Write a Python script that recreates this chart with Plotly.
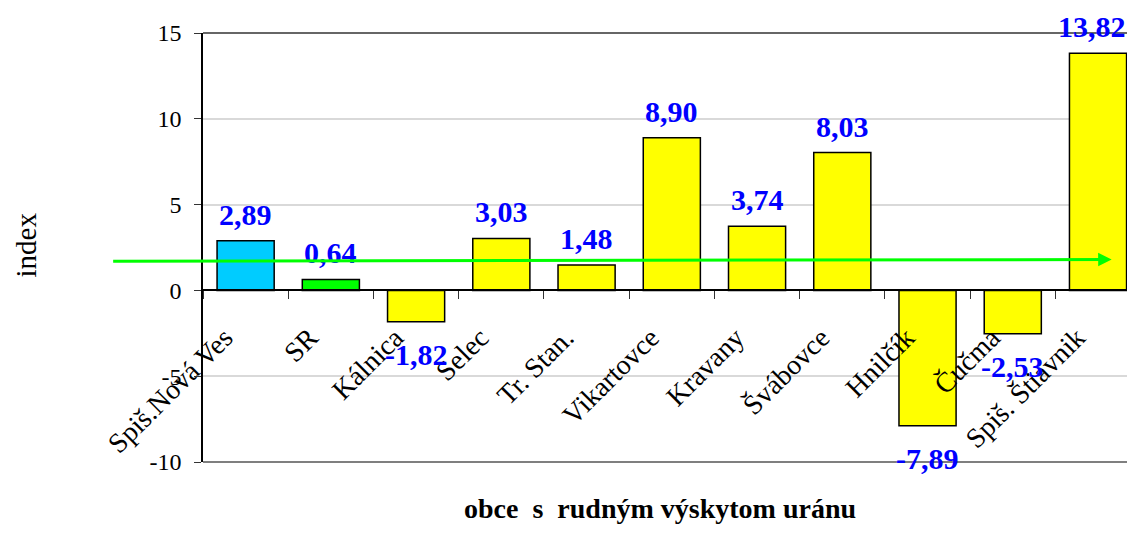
import plotly.graph_objects as go

obce = ["Spiš.Nová Ves", "SR", "Kálnica", "Selec", "Tr. Stan.", "Vikartovce",
        "Kravany", "Švábovce", "Hnilčík", "Čučma", "Spiš. Štiavnik"]
index_vals = [2.89, 0.64, -1.82, 3.03, 1.48, 8.90, 3.74, 8.03, -7.89, -2.53, 13.82]
farby = ["#00ccff", "#00ff00"] + ["#ffff00"] * 9
y_ticks = [-10, -5, 0, 5, 10, 15]
y_ticktext = ["-10", "-5", "0", "5", "10", "15"]

# rucne nakreslena sipka (trend)
trend_start = 1.70
trend_end = 1.80

serif = "Liberation Serif"

fig = go.Figure()
fig.add_trace(go.Bar(
    x=obce, y=index_vals,
    marker=dict(color=farby, line=dict(color="black", width=1.5)),
    width=0.67,
    hoverinfo="x+y",
))

# popisky hodnot
for name, v in zip(obce, index_vals):
    fig.add_annotation(
        x=name, y=v, xref="x", yref="y",
        text=f"{v:.2f}".replace(".", ","),
        showarrow=False,
        yanchor="bottom" if v >= 0 else "top",
        yshift=8 if v >= 0 else -14,
        xshift=-6 if name == obce[-1] else 0,
        font=dict(family=serif, size=30, color="#0000ff", weight="bold"),
    )

# zelena sipka
fig.add_annotation(
    x=10.16, y=trend_end, xref="x", yref="y",
    ax=-1000, ay=(trend_end - trend_start) * 17.2, axref="pixel", ayref="pixel",
    text="", showarrow=True, arrowhead=2, arrowsize=0.9, arrowwidth=3,
    arrowcolor="#00ff00",
)

fig.add_annotation(
    x=0, y=0.5, xref="paper", yref="paper", xshift=-178, yshift=2,
    xanchor="center", yanchor="middle",
    text="index", textangle=-90, showarrow=False,
    font=dict(family=serif, size=29, color="black"),
)
fig.add_annotation(
    x=0.495, y=0, xref="paper", yref="paper", yshift=-46,
    xanchor="center", yanchor="middle",
    text="obce  s  rudným výskytom uránu", showarrow=False,
    font=dict(family=serif, size=28, color="black", weight="bold"),
)

# horny a dolny okraj plochy grafu
fig.add_shape(type="line", xref="paper", yref="paper", x0=0, x1=1, y0=1, y1=1,
              line=dict(color="#333333", width=1.5))
fig.add_shape(type="line", xref="paper", yref="paper", x0=0, x1=1, y0=0, y1=0,
              line=dict(color="#555555", width=1.5))

fig.update_layout(
    width=1119, height=517,
    margin=dict(l=195, r=0, t=25, b=63),
    plot_bgcolor="white", paper_bgcolor="white",
    showlegend=False,
    font=dict(family=serif, color="black"),
    xaxis=dict(
        range=[-0.5, 10.34], anchor="free", position=0.4,
        showline=True, linecolor="black", linewidth=1.5,
        ticks="outside", tickson="boundaries", ticklen=8, tickcolor="#333",
        tickangle=-45, ticklabelstandoff=19, ticklabelshift=-21,
        tickfont=dict(family=serif, size=28, color="black"),
        showgrid=False, fixedrange=True,
    ),
    yaxis=dict(
        range=[-10, 15], tickvals=y_ticks, ticktext=y_ticktext,
        showline=True, linecolor="black", linewidth=1.5,
        ticks="outside", ticklen=7, tickcolor="#333", ticklabelstandoff=8,
        tickfont=dict(family=serif, size=24, color="black"),
        showgrid=True, gridcolor="#d9d9d9", gridwidth=1.5,
        zeroline=False, fixedrange=True,
    ),
)

fig.write_html("out.html")
